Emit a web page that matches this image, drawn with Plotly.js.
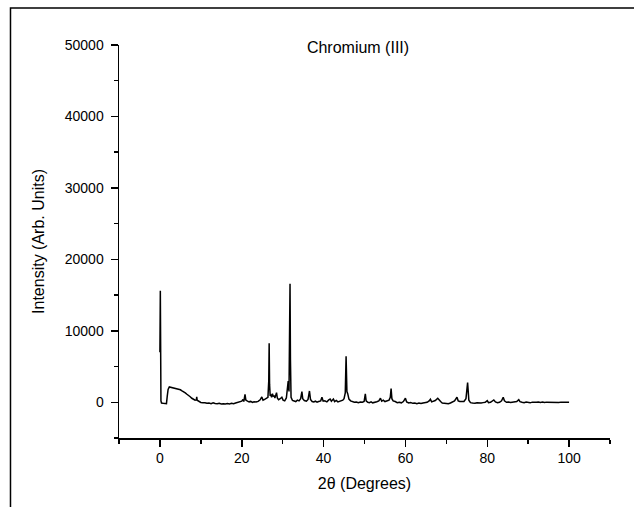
<!DOCTYPE html>
<html>
<head>
<meta charset="utf-8">
<script src="https://cdn.plot.ly/plotly-3.0.1.min.js"></script>
<style>
  html, body { margin: 0; padding: 0; background: #fff; }
  #chart { width: 634px; height: 507px; }
</style>
</head>
<body>
<div id="chart"></div>
<script>
const twoTheta = [
  0.0, 0.1, 0.25, 0.4, 0.8, 1.2, 1.6, 1.8, 2.0, 2.3, 2.7, 3.0, 3.4, 3.8, 4.2, 4.6, 5.0, 5.4, 5.8, 6.2,
  6.6, 7.0, 7.4, 7.8, 8.2, 8.6, 8.9, 9.0, 9.1, 9.5, 10.0, 10.5, 11.0, 11.5, 12.0, 12.5, 13.0, 13.5, 14.0, 14.5,
  15.0, 15.5, 16.0, 16.5, 17.0, 17.5, 18.0, 18.5, 19.0, 19.5, 20.0, 20.3, 20.5, 20.8, 21.0, 21.4, 21.8, 22.2, 22.6, 23.0,
  23.5, 24.0, 24.5, 24.9, 25.2, 25.6, 26.0, 26.4, 26.6, 26.7, 26.8, 26.95, 27.1, 27.3, 27.5, 27.7, 27.9, 28.1, 28.3, 28.5,
  28.7, 29.0, 29.4, 29.8, 30.1, 30.5, 30.9, 31.2, 31.35, 31.55, 31.7, 31.8, 31.9, 32.05, 32.4, 32.8, 33.2, 33.6, 34.0, 34.4,
  34.7, 34.9, 35.3, 35.8, 36.2, 36.55, 36.8, 37.2, 37.6, 38.0, 38.4, 38.8, 39.3, 39.6, 39.9, 40.3, 40.8, 41.2, 41.6, 41.9,
  42.4, 42.7, 43.1, 43.5, 43.9, 44.3, 44.7, 45.0, 45.3, 45.5, 45.7, 45.9, 46.2, 46.6, 47.0, 47.5, 48.0, 48.5, 49.0, 49.5,
  49.9, 50.2, 50.4, 50.8, 51.2, 51.6, 52.0, 52.5, 53.0, 53.5, 53.9, 54.2, 54.6, 55.0, 55.5, 56.0, 56.3, 56.5, 56.7, 57.0,
  57.5, 58.0, 58.5, 59.0, 59.5, 60.0, 60.3, 60.8, 61.3, 61.8, 62.3, 62.8, 63.3, 63.8, 64.3, 64.8, 65.3, 65.8, 66.1, 66.4,
  66.8, 67.3, 67.9, 68.2, 68.6, 69.0, 69.5, 70.0, 70.5, 71.0, 71.5, 72.0, 72.6, 72.9, 73.3, 73.8, 74.3, 74.8, 75.2, 75.5,
  75.9, 76.4, 77.0, 77.5, 78.0, 78.5, 79.0, 79.5, 80.0, 80.3, 80.8, 81.3, 81.6, 82.0, 82.5, 83.0, 83.5, 83.9, 84.2, 84.7,
  85.2, 85.7, 86.2, 86.7, 87.2, 87.7, 88.0, 88.5, 89.0, 89.5, 90.0, 90.5, 91.0, 91.5, 92.0, 92.5, 93.0, 93.5, 94.0, 94.5,
  95.0, 95.5, 96.0, 96.5, 97.0, 97.5, 98.0, 98.5, 99.0, 99.5, 100.0
];
const intensity = [
  7000, 15600, 200, -100, -150, -180, -200, 900, 1800, 2150, 2100, 2050, 1980, 1950, 1900, 1830, 1750, 1600, 1480, 1320,
  1120, 980, 780, 560, 420, 300, 330, 750, 280, 100, -20, -80, -60, -150, -120, -200, -80, -180, -220, -150,
  -230, -200, -250, -180, -230, -150, -200, -100, -50, 20, 150, 380, 100, 1100, 300, 150, 60, 120, -20, 80,
  30, 120, 350, 750, 300, 400, 550, 700, 3000, 8250, 2500, 900, 1100, 700, 1200, 800, 950, 600, 1000, 1350,
  600, 350, 500, 700, 300, 200, 600, 1900, 2950, 1500, 8000, 16600, 6000, 700, 250, 150, 100, 300, 200, 500,
  1480, 500, 250, 150, 400, 1580, 400, 100, 50, 150, 20, 100, 200, 700, 150, 200, 50, 300, 460, 150,
  460, 100, 250, 50, 150, 200, 300, 500, 1300, 6450, 1500, 1200, 450, 200, 150, 0, 50, -50, 40, 0,
  100, 1180, 200, 0, -50, 50, -80, -30, 80, 200, 560, 150, 300, 100, 150, 300, 700, 1930, 500, 200,
  100, -50, 0, -80, 100, 560, 50, -100, -50, -150, -100, -200, -120, -180, -100, -50, 0, 200, 420, 50,
  100, 250, 560, 300, 100, -100, -150, -120, -200, -100, 0, 200, 700, 200, 100, 50, 100, 500, 2750, 300,
  -50, -100, -150, -80, -120, -100, -50, 0, 230, -50, 0, 150, 330, 50, -50, 0, 200, 700, 200, 0,
  50, -20, 0, 50, 100, 370, 80, 0, -50, 50, 0, -80, 20, -30, 0, 40, -20, 30, -40, 20,
  0, 40, -20, 30, 10, -30, 20, 0, 30, -10, 0
];

const xTickVals = [0, 20, 40, 60, 80, 100];
const yTickVals = [0, 10000, 20000, 30000, 40000, 50000];

const FONT = '"Liberation Sans", Arial, sans-serif';

const trace = {
  x: twoTheta,
  y: intensity,
  type: 'scatter',
  mode: 'lines',
  line: { color: '#000000', width: 1.5 },
  hoverinfo: 'x+y',
  showlegend: false
};

const axisCommon = {
  showline: true,
  linecolor: '#000000',
  linewidth: 1.5,
  showgrid: false,
  zeroline: false,
  ticks: 'outside',
  ticklen: 7,
  tickwidth: 1.5,
  tickcolor: '#000000',
  tickfont: { family: FONT, size: 14, color: '#000000' },
  mirror: false
};

const layout = {
  width: 634,
  height: 507,
  paper_bgcolor: '#ffffff',
  plot_bgcolor: '#ffffff',
  font: { family: FONT, color: '#000000' },
  margin: { l: 119, r: 24, t: 45, b: 69 },
  title: {
    text: 'Chromium (III)',
    font: { family: FONT, size: 16, color: '#000000' },
    x: 358 / 634,
    xanchor: 'center',
    y: 1 - 47 / 507,
    yanchor: 'middle'
  },
  xaxis: Object.assign({}, axisCommon, {
    range: [-10, 110],
    tickvals: xTickVals,
    ticktext: xTickVals.map(String),
    minor: { ticks: 'outside', ticklen: 4, tickwidth: 1.5, tickcolor: '#000000', dtick: 10, tick0: 0, showgrid: false },
    title: { text: '2θ (Degrees)', font: { family: FONT, size: 16, color: '#000000' }, standoff: 12 },
    automargin: false
  }),
  yaxis: Object.assign({}, axisCommon, {
    range: [-5000, 50000],
    tickvals: yTickVals,
    ticktext: yTickVals.map(String),
    minor: { ticks: 'outside', ticklen: 4, tickwidth: 1.5, tickcolor: '#000000', dtick: 5000, tick0: 0, showgrid: false },
    title: { text: 'Intensity (Arb. Units)', font: { family: FONT, size: 16, color: '#000000' }, standoff: 16 },
    ticklabelstandoff: 4,
    automargin: false
  }),
  shapes: [{
    type: 'path',
    xref: 'paper',
    yref: 'paper',
    path: 'M -0.2210,-0.3 L -0.2210,1.0941 L 1.2,1.0941',
    line: { color: '#000000', width: 1.5 }
  }]
};

Plotly.newPlot('chart', [trace], layout, { displayModeBar: false, staticPlot: true });
</script>
</body>
</html>
